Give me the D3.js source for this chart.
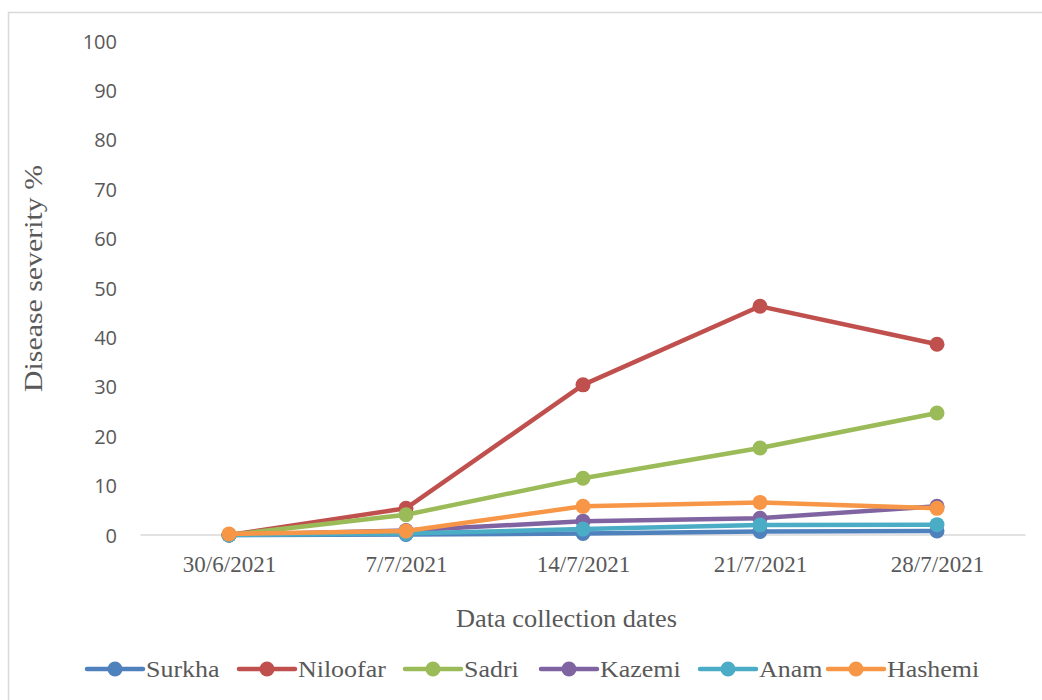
<!DOCTYPE html>
<html><head><meta charset="utf-8">
<script src="https://cdn.jsdelivr.net/npm/d3@7"></script>
<style>body{margin:0;background:#fff}svg{display:block}</style>
</head><body>
<svg id="chart" width="1042" height="700"></svg>
<script>
const dates = ["30/6/2021","7/7/2021","14/7/2021","21/7/2021","28/7/2021"];
const seriesNames = ["Surkha","Niloofar","Sadri","Kazemi","Anam","Hashemi"];
const seriesColors = ["#4F81BD","#C0504D","#9BBB59","#8064A2","#4BACC6","#F79646"];
const surkha   = [0, 0.1, 0.3, 0.7, 0.8];
const niloofar = [0, 5.4, 30.4, 46.3, 38.6];
const sadri    = [0, 4.1, 11.5, 17.6, 24.7];
const kazemi   = [0, 0.9, 2.8, 3.4, 5.8];
const anam     = [0, 0.3, 1.2, 2.0, 2.1];
const hashemi  = [0.2, 0.8, 5.8, 6.6, 5.4];
const yTicks = [0,10,20,30,40,50,60,70,80,90,100];
const seriesValues = [surkha, niloofar, sadri, kazemi, anam, hashemi];

const serif = "'Liberation Serif', 'Times New Roman', serif";
const svg = d3.select("#chart");
svg.append("rect").attr("x",8.5).attr("y",12.5).attr("width",1060).attr("height",720)
  .attr("fill","#fff").attr("stroke","#d9d9d9").attr("stroke-width",1.5);

const x = d3.scalePoint().domain(dates).range([140.5,1025.5]).padding(0.5);
const y = d3.scaleLinear().domain([0,100]).range([535,41]);

// y axis labels
const yAxis = d3.axisLeft(y).tickValues(yTicks).tickSize(0).tickPadding(0);
const yg = svg.append("g").attr("transform","translate(117,0)").call(yAxis);
yg.select(".domain").remove();
yg.selectAll("text").attr("font-family","'Open Sans', sans-serif").attr("font-size",20)
  .attr("fill","#595959").attr("dy","0.35em");

// x axis
const xAxis = d3.axisBottom(x).tickSize(0).tickPadding(0);
const xg = svg.append("g").attr("transform","translate(0,535)").call(xAxis);
xg.select(".domain").attr("d","M140.5,0H1025.5").attr("stroke","#d9d9d9").attr("stroke-width",1.5);
xg.selectAll("text").attr("font-family",serif).attr("font-size",23)
  .attr("fill","#595959").attr("y",37).attr("dy",0);

// titles
svg.append("text").attr("transform","translate(42,278.5) rotate(-90)").attr("text-anchor","middle")
  .attr("font-family",serif).attr("font-size",25).attr("fill","#595959")
  .attr("textLength",227).attr("lengthAdjust","spacingAndGlyphs")
  .text("Disease severity %");
svg.append("text").attr("x",566.5).attr("y",627).attr("text-anchor","middle")
  .attr("font-family",serif).attr("font-size",25).attr("fill","#595959")
  .attr("textLength",221).attr("lengthAdjust","spacingAndGlyphs")
  .text("Data collection dates");

// lines
const line = d3.line().x((d,i)=>x(dates[i])).y(d=>y(d));
seriesNames.forEach((name,si)=>{
  const g = svg.append("g");
  g.append("path").datum(seriesValues[si]).attr("d",line).attr("fill","none")
    .attr("stroke",seriesColors[si]).attr("stroke-width",4.5).attr("stroke-linejoin","round");
  g.selectAll("circle").data(seriesValues[si]).join("circle")
    .attr("cx",(d,i)=>x(dates[i])).attr("cy",d=>y(d)).attr("r",7.5).attr("fill",seriesColors[si]);
});

// legend
const legendStarts = [87,239,405,541,700,828];
const ly = 669;
seriesNames.forEach((name,si)=>{
  const lx = legendStarts[si];
  const g = svg.append("g");
  g.append("line").attr("x1",lx).attr("x2",lx+56).attr("y1",ly).attr("y2",ly)
    .attr("stroke",seriesColors[si]).attr("stroke-width",4.5).attr("stroke-linecap","round");
  g.append("circle").attr("cx",lx+28).attr("cy",ly).attr("r",7.5).attr("fill",seriesColors[si]);
  const t = g.append("text").attr("x",lx+59).attr("y",677)
    .attr("font-family",serif).attr("font-size",24)
    .attr("fill","#595959").text(name);
  const w = t.node().getComputedTextLength();
  t.attr("textLength", w*1.08).attr("lengthAdjust","spacingAndGlyphs");
});
</script>
</body></html>
